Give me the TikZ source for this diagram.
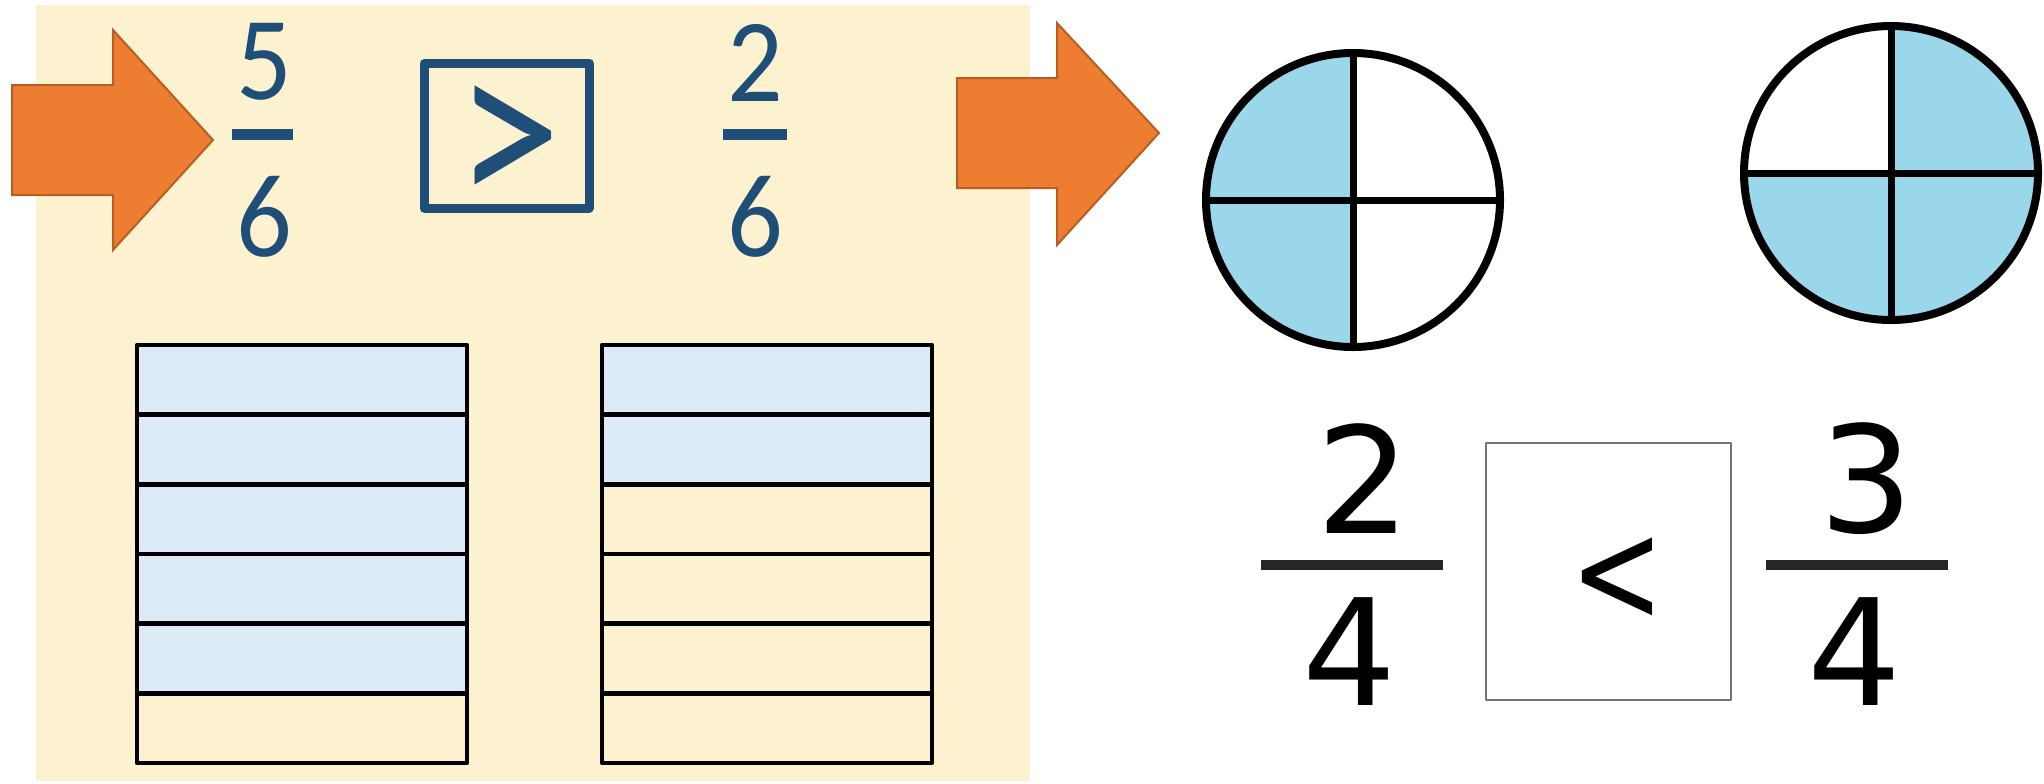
\documentclass[tikz,border=0pt]{standalone}
\usepackage{fontspec}
\usetikzlibrary{calc}
\newfontfamily\calfont{Carlito}
\newfontfamily\handfont{DejaVu Sans}
\definecolor{panelbg}{HTML}{FDF2D0}
\definecolor{rowblue}{HTML}{DDEBF7}
\definecolor{arrorange}{HTML}{ED7D31}
\definecolor{arredge}{HTML}{B85E22}
\definecolor{navy}{HTML}{1F4E79}
\definecolor{pieblue}{HTML}{9BD7EA}
\tikzset{
  bigarrow/.style={fill=arrorange, draw=arredge, line width=1pt, line join=miter},
  topnum/.style={inner sep=0pt, text=navy, font=\calfont\fontsize{55}{55}\selectfont},
  botnum/.style={inner sep=0pt, font=\handfont\fontsize{74}{74}\selectfont},
  strip/.style={draw=black, line width=2.2pt},
  pie/.style={draw=black, line width=4pt}
}
\begin{document}
\begin{tikzpicture}[x=0.5pt, y=0.5pt, line join=round, line cap=butt]
			\useasboundingbox (0,0) rectangle (2044,-783);
			\fill[white] (0,0) rectangle (2044,-783);
			\fill[panelbg] (36,-5) rectangle (1030,-781); % khung vàng
			
			% mũi tên cam
			\draw[bigarrow] (12,-85)--(113,-85)--(113,-30)--(213,-140)--(113,-250)--(113,-195)--(12,-195)--cycle;
			\draw[bigarrow] (957,-78)--(1057,-78)--(1057,-23)--(1159,-133)--(1057,-245)--(1057,-188)--(957,-188)--cycle;
			
			% 5/6 > 2/6
			\node[topnum, yscale=1.08] (a1) at (264,-62) {5};
			\node[topnum, yscale=1.08] (b1) at (264,-217) {6};
			\draw[navy, line width=5.5pt] (232,-134.5)--(293,-134.5);
			\draw[navy, line width=4.5pt] (424,-63) rectangle (589,-208);
			\node[topnum, font=\calfont\fontsize{100}{100}\selectfont, xscale=1.05, yscale=1.2] (gt) at (509,-149) {>};
			\node[topnum, yscale=1.08] (a2) at (755,-63) {2};
			\node[topnum, yscale=1.08] (b2) at (755,-217) {6};
			\draw[navy, line width=5.5pt] (723,-134.5)--(787,-134.5);
			
			% hai băng giấy chia 6 phần
			\def\h{69.67}
			\foreach \i in {0,...,5}{
				\pgfmathsetmacro{\yt}{-345-\i*\h}
				\pgfmathsetmacro{\yb}{-345-(\i+1)*\h}
				\ifnum\i<5 \def\c{rowblue}\else\def\c{panelbg}\fi
				\draw[strip, fill=\c] (137,\yt) rectangle (467,\yb);
				\ifnum\i<2 \def\c{rowblue}\else\def\c{panelbg}\fi
				\draw[strip, fill=\c] (602,\yt) rectangle (932,\yb);
			}
			
			% hình tròn chia 4
			\def\r{147}
			\coordinate (O1) at (1353,-200);
			\coordinate (O2) at (1891,-173);
			\fill[pieblue] (O1) -- ++(90:\r) arc[start angle=90, end angle=270, radius=\r] -- cycle;
			\fill[pieblue] (O2) -- ++(90:\r) arc[start angle=90, end angle=-180, radius=\r] -- cycle;
			\foreach \o in {O1,O2}{
				\draw[black, line width=3.5pt] ($(\o)+(-\r,0)$)--($(\o)+(\r,0)$);
				\draw[black, line width=3.5pt] ($(\o)+(0,\r)$)--($(\o)+(0,-\r)$);
				\draw[pie] (\o) circle[radius=\r];
			}
			
			% 2/4 < 3/4
			\node[botnum] (a3) at (1364,-479) {2};
			\node[botnum] (b3) at (1350,-652) {4};
			\draw[black!85, line width=5pt] (1261,-565)--(1443,-565);
			\draw[black!55, line width=1pt] (1486,-443) rectangle (1731,-700);
			\node[botnum, font=\handfont\fontsize{56}{56}\selectfont, yscale=1.3] (lt) at (1617,-580) {<};
			\node[botnum] (a4) at (1867,-479) {3};
			\node[botnum] (b4) at (1855,-652) {4};
			\draw[black!85, line width=5pt] (1766,-565)--(1948,-565);
		\end{tikzpicture}
\end{document}
